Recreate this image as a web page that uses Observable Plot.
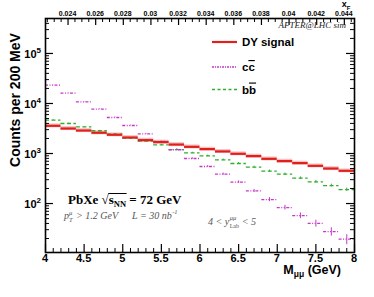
<!DOCTYPE html>
<html><head><meta charset="utf-8">
<script src="https://cdn.jsdelivr.net/npm/d3@7"></script>
<script src="https://cdn.jsdelivr.net/npm/@observablehq/plot@0.6"></script>
<style>body{margin:0;background:#fff} svg{display:block}</style>
</head><body><div id="chart"></div>
<script>
// ---- data (bins of 200 MeV) ----
const binLo = [4.0,4.2,4.4,4.6,4.8,5.0,5.2,5.4,5.6,5.8,6.0,6.2,6.4,6.6,6.8,7.0,7.2,7.4,7.6,7.8];
const binHi = [4.2,4.4,4.6,4.8,5.0,5.2,5.4,5.6,5.8,6.0,6.2,6.4,6.6,6.8,7.0,7.2,7.4,7.6,7.8,8.0];
const dySignal = [3580,3160,2880,2600,2370,2090,1850,1690,1510,1360,1225,1100,987,887,783,705,643,567,501,451];
const dyErr    = [330,290,265,240,215,190,170,155,140,125,112,100,90,81,72,65,59,52,46,41];
const ccbar    = [23300,16100,10800,7730,5250,3630,2480,1740,1190,794,550,387,268,179,120,83,57.5,40,27.5,19.4];
const ccErr    = [150,130,105,90,72,60,50,42,35,28,23,20,16,13,11,9,7.5,6.3,5.2,4.4];
const bbbar    = [4660,3980,3420,2850,2440,2030,1770,1490,1200,1030,900,748,631,535,445,387,322,272,229,190];
const bbErr    = [68,63,58,53,49,45,42,39,35,32,30,27,25,23,21,20,18,16.5,15,14];

// ---- ticks ----
const xTickMajor  = [4,4.5,5,5.5,6,6.5,7,7.5,8];
const xTickLabels = ["4","4.5","5","5.5","6","6.5","7","7.5","8"];
const yTickMajor  = [100,1000,10000,100000];
const yTickExp    = ["2","3","4","5"];
const xfTickMajor = [0.024,0.026,0.028,0.030,0.032,0.034,0.036,0.038,0.040,0.042,0.044];
const xfTickLabels= ["0.024","0.026","0.028","0.03","0.032","0.034","0.036","0.038","0.04","0.042","0.044"];
const xfPerGeV = 0.005592;   // x_F = M * xfPerGeV

const xTickMinor = d3.range(41).map(i => 4 + i*0.1).filter(v => Math.abs(v*2 - Math.round(v*2)) > 1e-6);
const yTickMinor = [];
for (const dec of [10,100,1000,10000,100000]) for (let k=2;k<=9;k++){ const v=dec*k; if (v>10.5 && v<5e5) yTickMinor.push(v); }
const xfTickMinor = d3.range(0.0225, 0.0448, 0.0005).filter(v => Math.abs(v/0.002 - Math.round(v/0.002)) > 1e-6);

const rows = binLo.map((lo,i) => ({lo, hi: binHi[i], mid: (lo+binHi[i])/2,
  dy: dySignal[i], dyE: dyErr[i], cc: ccbar[i], ccE: ccErr[i], bb: bbbar[i], bbE: bbErr[i]}));

const W = 374-45-20, H = 297-18-45;
const RED="#e0201c", GREEN="#2fae2f", MAG="#c837c8";

const chart = Plot.plot({
  width:374, height:297, marginLeft:45, marginRight:20, marginTop:18, marginBottom:45,
  x:{domain:[4,8], axis:null},
  y:{type:"log", domain:[10.5,5e5], axis:null},
  marks:[
    Plot.rect(rows,{x1:"lo",x2:"hi",y1:d=>d.dy-d.dyE,y2:d=>d.dy+d.dyE,fill:"#f6c4c4"}),
    Plot.ruleY(rows,{x1:"lo",x2:"hi",y:"bb",stroke:GREEN,strokeWidth:1.3,strokeDasharray:"4,2.5"}),
    Plot.ruleX(rows,{x:"mid",y1:d=>d.bb-d.bbE,y2:d=>d.bb+d.bbE,stroke:GREEN,strokeWidth:1}),
    Plot.ruleY(rows,{x1:"lo",x2:"hi",y:"cc",stroke:MAG,strokeWidth:1.3,strokeDasharray:"3,1.5,1,1.5,1,1.5"}),
    Plot.ruleX(rows,{x:"mid",y1:d=>d.cc-d.ccE,y2:d=>d.cc+d.ccE,stroke:MAG,strokeWidth:1}),
    Plot.ruleY(rows,{x1:"lo",x2:"hi",y:"dy",stroke:RED,strokeWidth:2.2}),
    // bottom axis ticks
    Plot.ruleX(xTickMajor,{x:d=>d,insetTop:H-8,stroke:"black",strokeWidth:1.2}),
    Plot.ruleX(xTickMinor,{x:d=>d,insetTop:H-4,stroke:"black",strokeWidth:1}),
    // top axis ticks (x_F)
    Plot.ruleX(xfTickMajor,{x:d=>d/xfPerGeV,insetBottom:H-7,stroke:"black",strokeWidth:1.2}),
    Plot.ruleX(xfTickMinor,{x:d=>d/xfPerGeV,insetBottom:H-4,stroke:"black",strokeWidth:1}),
    // left & right y ticks
    Plot.ruleY(yTickMajor,{y:d=>d,insetRight:W-8,stroke:"black",strokeWidth:1.2}),
    Plot.ruleY(yTickMinor,{y:d=>d,insetRight:W-4,stroke:"black",strokeWidth:1}),
    Plot.ruleY(yTickMajor,{y:d=>d,insetLeft:W-8,stroke:"black",strokeWidth:1.2}),
    Plot.ruleY(yTickMinor,{y:d=>d,insetLeft:W-4,stroke:"black",strokeWidth:1}),
    Plot.frame({stroke:"black",strokeWidth:1.6})
  ]
});
document.getElementById("chart").appendChild(chart);

const svg = d3.select(chart);
const sx = chart.scale("x"), sy = chart.scale("y");
const SANS = "'Liberation Sans', Arial, sans-serif", SERIF = "'Liberation Serif', 'Times New Roman', serif";

function t(x, y, str, o={}) {
  const el = svg.append("text").attr("x",x).attr("y",y).text(str)
    .attr("font-family", o.family||SANS).attr("font-size", o.size||11)
    .attr("font-weight", o.weight||"normal").attr("font-style", o.style||"normal")
    .attr("fill", o.fill||"black").attr("text-anchor", o.anchor||"start");
  if (o.overline) el.style("text-decoration","overline");
  return el;
}
function seq(x, y, parts, base={}) {
  let cx = x;
  for (const p of parts) {
    const o = Object.assign({}, base, p);
    const el = t(cx, y + (o.dy||0), o.t, o);
    cx += el.node().getComputedTextLength();
  }
  return cx;
}

// bottom tick labels
xTickMajor.forEach((v,i)=> t(sx.apply(v), 262, xTickLabels[i], {size:11, weight:"bold", anchor:"middle"}));
// top tick labels
xfTickMajor.forEach((v,i)=> t(sx.apply(v/xfPerGeV), 16, xfTickLabels[i], {size:7, weight:"bold", anchor:"middle"}));
// y tick labels 10^n
yTickMajor.forEach((v,i)=>{
  const y = sy.apply(v);
  const el = svg.append("text").attr("x",41).attr("y",y+5).attr("text-anchor","end")
    .attr("font-family",SANS).attr("font-weight","bold").attr("font-size",11);
  el.append("tspan").text("10");
  el.append("tspan").attr("dy",-5).attr("font-size",8).text(yTickExp[i]);
});
// axis titles
svg.append("text").attr("transform","translate(20,100) rotate(-90)").attr("text-anchor","middle")
  .attr("font-family",SANS).attr("font-weight","bold").attr("font-size",14).text("Counts per 200 MeV");
{
  const el = svg.append("text").attr("x",341).attr("y",274).attr("text-anchor","end")
    .attr("font-family",SANS).attr("font-weight","bold").attr("font-size",12.5);
  el.append("tspan").text("M");
  el.append("tspan").attr("dy",3).attr("font-size",8.5).text("μμ");
  el.append("tspan").attr("dy",-3).text(" (GeV)");
}
{
  const el = svg.append("text").attr("x",346).attr("y",7)
    .attr("font-family",SANS).attr("font-weight","bold").attr("font-size",9);
  el.append("tspan").text("x");
  el.append("tspan").attr("dy",2.5).attr("font-size",6).text("F");
}
// AFTER@LHC sim
t(346, 28, "AFTER@LHC sim", {family:SERIF, style:"italic", size:9, anchor:"end", fill:"#222"});

// legend
const legend = [
  {y:42, stroke:RED, w:2.2, dash:null, label:[{t:"DY signal"}]},
  {y:67, stroke:MAG, w:1.4, dash:"2,1,1,1", label:[{t:"c"},{t:"c", overline:true}]},
  {y:89.5, stroke:GREEN, w:1.3, dash:"3,2.5", label:[{t:"b"},{t:"b", overline:true}]}
];
legend.forEach(L=>{
  const ln = svg.append("line").attr("x1",212).attr("x2",237).attr("y1",L.y).attr("y2",L.y)
    .attr("stroke",L.stroke).attr("stroke-width",L.w);
  if (L.dash) ln.attr("stroke-dasharray",L.dash);
  seq(242, L.y+4, L.label, {size:11.5, weight:"bold"});
});

// PbXe sqrt(s_NN) = 72 GeV
{
  let x = seq(68, 204, [{t:"PbXe "}], {family:SERIF, weight:"bold", size:13});
  x = seq(x, 204, [{t:"√"}], {family:SERIF, weight:"bold", size:13});
  const xs = x;
  x = seq(x, 204, [{t:"s"},{t:"NN", size:8.5, dy:2.5}], {family:SERIF, weight:"bold", size:13});
  svg.append("line").attr("x1",xs-0.5).attr("x2",x+0.5).attr("y1",193.5).attr("y2",193.5).attr("stroke","black").attr("stroke-width",1);
  seq(x, 204, [{t:" = 72 GeV"}], {family:SERIF, weight:"bold", size:13});
}
// italic conditions
{
  const base = {family:SERIF, style:"italic", size:10, fill:"#555"};
  let x = seq(64, 219, [{t:"p"}], base);
  t(x, 215, "μ", Object.assign({}, base, {size:6.5}));
  t(x, 222, "T", Object.assign({}, base, {size:6.5}));
  x += 4.5;
  x = seq(x, 219, [{t:" > 1.2 GeV"}], base);
  x = seq(132, 219, [{t:"L = 30 nb"}], base);
  t(x+0.5, 214, "-1", Object.assign({}, base, {size:6.5}));
  x = seq(208, 225, [{t:"4 < y"}], base);
  t(x+0.5, 220, "μμ", Object.assign({}, base, {size:6.5}));
  t(x+0.5, 228, "Lab", Object.assign({}, base, {size:6, style:"normal"}));
  seq(x+10, 225, [{t:" < 5"}], base);
}
</script>
</body></html>
